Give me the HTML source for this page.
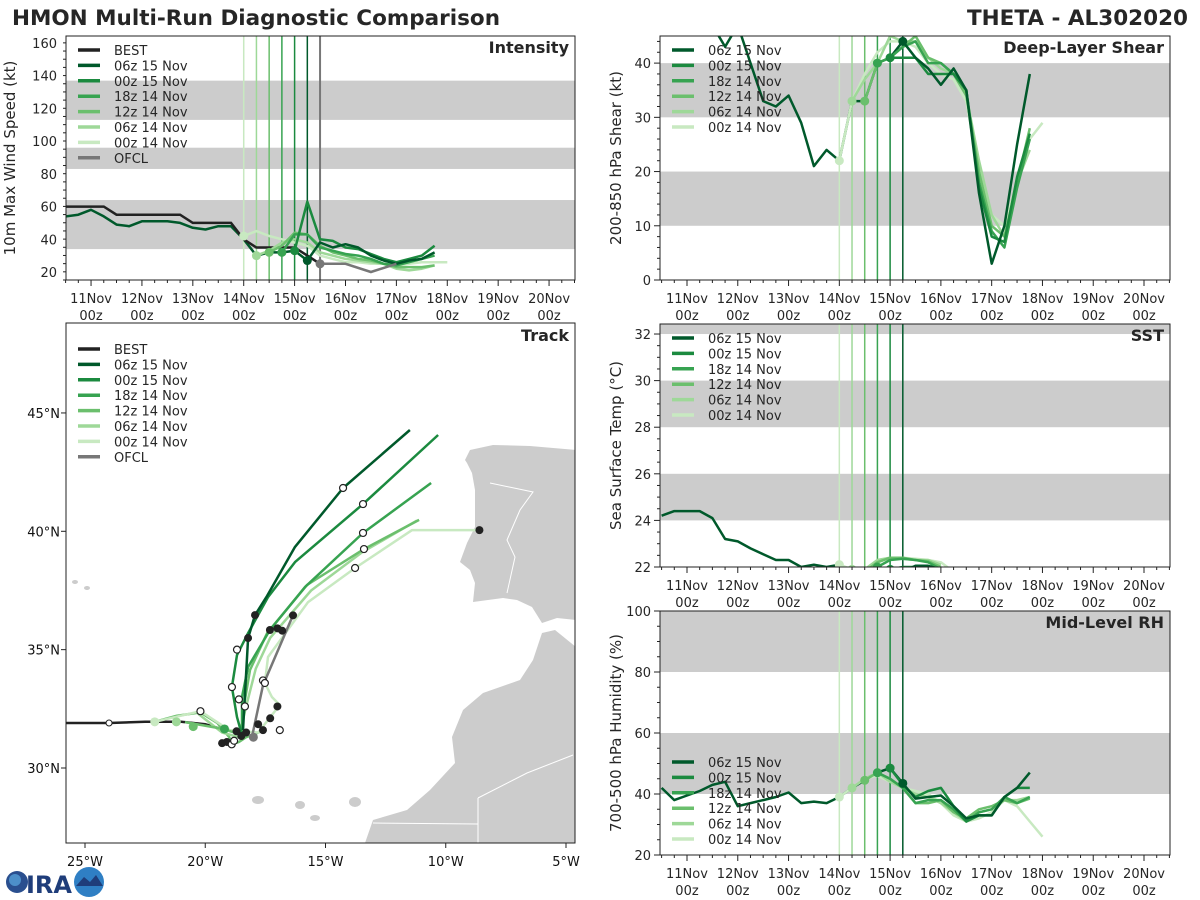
<!DOCTYPE html>
<html><head><meta charset="utf-8"><title>HMON Multi-Run Diagnostic Comparison</title>
<style>
html,body{margin:0;padding:0;background:#fff;}
svg{display:block;font-family:"DejaVu Sans","Liberation Sans",sans-serif;}
</style></head>
<body>
<svg id="fig" width="1200" height="900" viewBox="0 0 1200 900" xmlns="http://www.w3.org/2000/svg">
<rect x="0" y="0" width="1200" height="900" fill="#fff"/>
<text x="12" y="25" font-size="21.5" font-weight="bold" fill="#262626">HMON Multi-Run Diagnostic Comparison</text>
<text x="1188" y="25" font-size="21.5" font-weight="bold" fill="#262626" text-anchor="end">THETA - AL302020</text>
<g>
<circle cx="17" cy="882" r="11" fill="#2a4f8f"/><circle cx="15" cy="880" r="6" fill="#4d8fc9"/>
<text x="26" y="893" font-size="24" font-weight="bold" fill="#1f3d7a">IRA</text>
<circle cx="89" cy="882" r="15" fill="#2f7fc4"/><path d="M76,886 L84,877 L90,882 L96,875 L103,886 Z" fill="#1f3d7a"/>
</g>
<g id="layer"></g>
</svg>
<script>
// ---------- shared run info ----------
const runNames = ['06z 15 Nov','00z 15 Nov','18z 14 Nov','12z 14 Nov','06z 14 Nov','00z 14 Nov'];
const runInit = [15.25, 15.0, 14.75, 14.5, 14.25, 14.0];
const runColors = ['#00592b','#1b8a3f','#37a351','#6bbf6d','#9ed898','#c8e9c1'];
const dayTicks = [11,12,13,14,15,16,17,18,19,20];
const dayTickLabels = ['11Nov','12Nov','13Nov','14Nov','15Nov','16Nov','17Nov','18Nov','19Nov','20Nov'];

// ---------- intensity data ----------
const intHistDays = [10.5,10.75,11,11.25,11.5,11.75,12,12.25,12.5,12.75,13,13.25,13.5,13.75,14,14.25,14.5,14.75,15,15.25];
const intHistVals = [54,55,58,54,49,48,51,51,51,50,47,46,48,48,40,30,32,32,33,27];
const bestDays = [10.5,10.75,11,11.25,11.5,11.75,12,12.25,12.5,12.75,13,13.25,13.5,13.75,14,14.25,14.5,14.75,15,15.25,15.5];
const bestVals = [60,60,60,60,55,55,55,55,55,55,50,50,50,50,40,35,35,35,35,30,25];
const ofclDays = [15.5,16.0,16.5,17.0];
const ofclVals = [25,25,20,25];
const intRun06z15 = [27,38,35,37,35,30,27,25,27,28,32];
const intRun00z15 = [33,63,40,39,35,34,31,28,26,28,30,36];
const intRun18z14 = [32,43,43,35,33,31,30,28,25,24,26,28,30];
const intRun12z14 = [32,36,44,43,36,32,30,28,27,25,23,23,23,24];
const intRun06z14 = [30,33,38,40,38,32,30,28,27,26,25,22,21,22,24];
const intRun00z14 = [42,45,42,40,38,36,30,28,26,26,25,25,24,25,26,26,26];
const intRuns = [intRun06z15,intRun00z15,intRun18z14,intRun12z14,intRun06z14,intRun00z14];

// ---------- shear data ----------
const shrHistDays = [10.5,10.75,11,11.25,11.5,11.75,12,12.25,12.5,12.75,13,13.25,13.5,13.75,14,14.25,14.5,14.75,15,15.25];
const shrHistVals = [60,58,55,50,47,43,47,40,33,32,34,29,21,24,22,33,33,40,41,44];
const shrRun06z15 = [44,41,39,36,39,35,16,3,10,25,38];
const shrRun00z15 = [41,41,41,38,38,38,35,17,8,7,19,27];
const shrRun18z14 = [40,41,43,44,40,40,38,35,18,9,6,17,26];
const shrRun12z14 = [33,40,41,43,45,41,40,38,34,20,10,8,18,28];
const shrRun06z14 = [33,37,40,45,44,44,41,39,38,34,22,12,8,18,24];
const shrRun00z14 = [22,33,38,42,44,44,43,40,38,37,33,20,12,10,18,26,29];
const shrRuns = [shrRun06z15,shrRun00z15,shrRun18z14,shrRun12z14,shrRun06z14,shrRun00z14];

// ---------- SST data ----------
const sstHistDays = [10.5,10.75,11,11.25,11.5,11.75,12,12.25,12.5,12.75,13,13.25,13.5,13.75,14];
const sstHistVals = [24.2,24.4,24.4,24.4,24.1,23.2,23.1,22.8,22.55,22.3,22.3,22.0,22.1,22.0,22.1];
const sstRun06z15 = [21.8,22.05,22.05,21.9];
const sstRun00z15 = [21.9,22.0,22.0,22.0,21.8];
const sstRun18z14 = [22.0,22.3,22.35,22.3,22.2,21.9];
const sstRun12z14 = [21.8,22.2,22.4,22.4,22.3,22.25,22.0];
const sstRun06z14 = [21.9,21.9,22.3,22.4,22.35,22.3,22.3,22.1];
const sstRun00z14 = [22.1,21.9,21.8,22.2,22.4,22.4,22.35,22.3,22.2,21.8];
const sstRuns = [sstRun06z15,sstRun00z15,sstRun18z14,sstRun12z14,sstRun06z14,sstRun00z14];

// ---------- RH data ----------
const rhHistDays = [10.5,10.75,11,11.25,11.5,11.75,12,12.25,12.5,12.75,13,13.25,13.5,13.75,14,14.25,14.5,14.75,15,15.25];
const rhHistVals = [42,38,39.5,41,43,44,36,37,38,39,40.5,37,37.5,37,39,42,44.5,47,48.5,43.5];
const rhRun06z15 = [43.5,38.5,39,39.5,36,32,33,33,39,42,47];
const rhRun00z15 = [48.5,43,39,41,42,36,31,33,33,39,42,42];
const rhRun18z14 = [47,45,42,37,38,38,35,31,34,35,39,37,39];
const rhRun12z14 = [44.5,47,45,42,37,37,38,34,32,35,36,38,37,38.5];
const rhRun06z14 = [42,45,47,44,42,40,39,37,34,31,34,35,38,38,39];
const rhRun00z14 = [39,42,45,46,44,42,41,40,37,33,31,32,34,38,36,31,26];
const rhRuns = [rhRun06z15,rhRun00z15,rhRun18z14,rhRun12z14,rhRun06z14,rhRun00z14];

// ---------- track data ----------
const bestLon = [-25.9,-24.0,-22.5,-21.0,-20.0,-19.5,-19.0,-18.7,-18.5];
const bestLat = [31.9,31.9,31.95,31.95,31.85,31.7,31.6,31.5,31.45];
const loopLon = [-22.1,-21.2,-20.2,-19.5,-19.0,-18.9,-18.6,-18.3,-17.9,-17.6];
const loopLat = [31.95,32.2,32.35,31.9,31.3,31.0,31.1,31.3,31.45,31.6];
const trkLon06z15 = [-18.43,-18.22,-17.93,-17.43,-16.27,-14.27,-11.49];
const trkLat06z15 = [31.6,35.49,36.46,37.27,39.34,41.83,44.28];
const trkLon00z15 = [-18.5,-18.68,-18.89,-18.68,-18.22,-17.39,-16.27,-13.44,-10.32];
const trkLat00z15 = [31.5,32.15,33.42,34.77,35.7,37.22,38.7,41.15,44.07];
const trkLon18z14 = [-18.47,-18.47,-18.22,-17.31,-15.85,-13.44,-10.61];
const trkLat18z14 = [31.6,33.0,34.27,35.83,37.65,39.93,42.04];
const trkLon12z14 = [-20.84,-19.26,-18.47,-18.35,-18.14,-17.43,-15.77,-13.4,-11.11];
const trkLat12z14 = [31.94,31.65,31.4,32.87,34.14,35.7,37.73,39.25,40.48];
const trkLon06z14 = [-20.3,-19.3,-18.6,-18.3,-17.9,-17.3,-15.6,-13.5,-11.2];
const trkLat06z14 = [32.3,31.5,31.3,32.6,34.2,35.5,37.5,39.1,40.45];
const trkLon00z14 = [-22.1,-20.2,-19.0,-17.8,-16.9,-17.23,-17.52,-17.39,-15.73,-13.77,-11.4,-8.6];
const trkLat00z14 = [31.95,32.4,31.6,31.5,32.66,33.0,33.59,34.69,37.0,38.45,40.05,40.05];
const trkLons = [trkLon06z15,trkLon00z15,trkLon18z14,trkLon12z14,trkLon06z14,trkLon00z14];
const trkLats = [trkLat06z15,trkLat00z15,trkLat18z14,trkLat12z14,trkLat06z14,trkLat00z14];
const ofclLon = [-18.06,-17.6,-16.35];
const ofclLat = [31.3,33.5,36.45];
const blackDotLon = [-19.3,-19.1,-18.7,-18.5,-18.3,-17.8,-17.6,-17.3,-17.0,-18.22,-17.93,-17.31,-17.0,-16.8,-16.35,-8.6];
const blackDotLat = [31.05,31.1,31.55,31.35,31.5,31.85,31.6,32.1,32.6,35.49,36.46,35.83,35.9,35.8,36.45,40.05];
const openDotLon = [-14.27,-13.44,-13.44,-13.4,-13.77,-18.89,-18.35,-17.6,-17.52,-18.68,-18.6,-16.9,-20.2,-18.9,-18.8];
const openDotLat = [41.83,41.15,39.93,39.25,38.45,33.42,32.6,33.7,33.59,35.0,32.9,31.6,32.4,31.0,31.15];

// ---------- helpers ----------
const NS = 'http://www.w3.org/2000/svg';
const layer = document.getElementById('layer');
function mk(tag, attrs, parent){
  const e = document.createElementNS(NS, tag);
  for (const k in attrs) e.setAttribute(k, attrs[k]);
  (parent||layer).appendChild(e);
  return e;
}
function polyPts(xs, ys, fx, fy){ return xs.map((v,i)=>fx(v).toFixed(1)+','+fy(ys[i]).toFixed(1)).join(' '); }

function timePanel(p){
  const g = mk('g', {});
  
  
  const X = d => p.x0 + (d - 10.5) * p.pxDay;
  const Y = v => p.y + p.h - (v - p.ymin) / (p.ymax - p.ymin) * p.h;
  const cid = 'clip-' + p.name;
  const cp = mk('clipPath', {id: cid}, g);
  mk('rect', {x:p.x, y:p.y, width:p.w, height:p.h}, cp);
  p.bands.forEach(b=>{
    const r = mk('rect', {x:p.x, y:Y(Math.min(b[1],p.ymax)), width:p.w, height:Y(b[0])-Y(Math.min(b[1],p.ymax)), fill:'#cccccc'}, g);
    
    
  });
  const plot = mk('g', {'clip-path':'url(#'+cid+')'}, g);
  for (let i = runInit.length-1; i >= 0; i--){
    const l = mk('line', {x1:X(runInit[i]), x2:X(runInit[i]), y1:p.y, y2:p.y+p.h, stroke:runColors[i], 'stroke-width':1.5}, plot);
    
    
  }
  if (p.ofclLine){
    const l = mk('line', {x1:X(15.5), x2:X(15.5), y1:p.y, y2:p.y+p.h, stroke:'#777', 'stroke-width':2}, plot);
    
    
  }
  const hl = mk('polyline', {points:polyPts(p.histDays,p.histVals,X,Y), fill:'none', stroke:runColors[0], 'stroke-width':2.5, 'stroke-linejoin':'round'}, plot);
  
  
  if (p.best){
    const bl = mk('polyline', {points:polyPts(bestDays,bestVals,X,Y), fill:'none', stroke:'#222', 'stroke-width':2.5}, plot);
    
    
  }
  for (let i = p.runs.length-1; i >= 0; i--){
    const vals = p.runs[i];
    const days = vals.map((v,k)=>runInit[i] + k*0.25);
    const pl = mk('polyline', {points:polyPts(days,vals,X,Y), fill:'none', stroke:runColors[i], 'stroke-width':2.5, 'stroke-linejoin':'round'}, plot);
    
    
  }
  if (p.best){
    const ol = mk('polyline', {points:polyPts(ofclDays,ofclVals,X,Y), fill:'none', stroke:'#777', 'stroke-width':2.5}, plot);
    
    
    const oc = mk('circle', {cx:X(ofclDays[0]), cy:Y(ofclVals[0]), r:4.5, fill:'#777'}, plot);
    
    
  }
  for (let i = p.runs.length-1; i >= 0; i--){
    const c = mk('circle', {cx:X(runInit[i]), cy:Y(p.runs[i][0]), r:4.5, fill:runColors[i]}, plot);
    
    
  }
  mk('rect', {x:p.x, y:p.y, width:p.w, height:p.h, fill:'none', stroke:'#222', 'stroke-width':1}, g);
  for (let d = 10.5; d <= 20.5001; d += 0.25){
    const isMajor = Math.abs(d - Math.round(d)) < 1e-6;
    mk('line', {x1:X(d), x2:X(d), y1:p.y+p.h, y2:p.y+p.h+(isMajor?6:3), stroke:'#222', 'stroke-width':1}, g);
  }
  dayTicks.forEach((d,i)=>{
    const t1 = mk('text', {x:X(d), y:p.y+p.h+23, 'font-size':13, 'text-anchor':'middle', fill:'#262626'}, g);
    t1.textContent = dayTickLabels[i];
    
    
    const t2 = mk('text', {x:X(d), y:p.y+p.h+40, 'font-size':13, 'text-anchor':'middle', fill:'#262626'}, g);
    t2.textContent = '00z';
    
    
  });
  for (let v = p.ymin; v <= p.ymax + 1e-6; v += p.minor){
    const v2 = Math.round(v*100)/100;
    const isMajor = Math.abs(v2/p.major - Math.round(v2/p.major)) < 1e-6;
    mk('line', {x1:p.x-(isMajor?6:3), x2:p.x, y1:Y(v2), y2:Y(v2), stroke:'#222', 'stroke-width':1}, g);
  }
  p.yTicks.forEach(v=>{
    const t = mk('text', {x:p.x-9, y:Y(v)+5, 'font-size':13, 'text-anchor':'end', fill:'#262626'}, g);
    t.textContent = v;
    
    
  });
  const yt = mk('text', {x:0, y:0, 'font-size':15, 'text-anchor':'middle', fill:'#262626', transform:'translate('+p.ylabX+','+(p.y+p.h/2)+') rotate(-90)'}, g);
  yt.textContent = p.ylabel;
  
  
  const tt = mk('text', {x:p.x+p.w-6, y:p.y+17, 'font-size':16, 'font-weight':'bold', 'text-anchor':'end', fill:'#262626'}, g);
  tt.textContent = p.title;
  
  
  legend(g, p.x+12, p.legY, p.best);
}

function legend(g, x, y, withBest){
  const names = [], cols = [];
  if (withBest){ names.push('BEST'); cols.push('#222'); }
  runNames.forEach((n,i)=>{ names.push(n); cols.push(runColors[i]); });
  if (withBest){ names.push('OFCL'); cols.push('#777'); }
  const lg = mk('g', {}, g);
  
  
  names.forEach((n,i)=>{
    const yy = y + i*15.4;
    const e = mk('g', {}, lg);
    
    
    mk('line', {x1:x, x2:x+22, y1:yy, y2:yy, stroke:cols[i], 'stroke-width':3.5}, e);
    const t = mk('text', {x:x+36, y:yy+5, 'font-size':13, fill:'#262626'}, e);
    t.textContent = n;
  });
}

timePanel({name:'intensity-panel', x:66, y:36, w:509, h:244, x0:65.6, pxDay:50.89, ymin:15.1, ymax:164.3,
  bands:[[34,64],[83,96],[113,137]], histDays:intHistDays, histVals:intHistVals, runs:intRuns, best:true, ofclLine:true,
  yTicks:[20,40,60,80,100,120,140,160], major:20, minor:5, ylabel:'10m Max Wind Speed (kt)', ylabX:15, title:'Intensity', legY:50});
timePanel({name:'shear-panel', x:660, y:36, w:510, h:244, x0:661.6, pxDay:50.78, ymin:0, ymax:45,
  bands:[[10,20],[30,40]], histDays:shrHistDays, histVals:shrHistVals, runs:shrRuns, best:false,
  yTicks:[0,10,20,30,40], major:10, minor:2, ylabel:'200-850 hPa Shear (kt)', ylabX:621, title:'Deep-Layer Shear', legY:50});
timePanel({name:'sst-panel', x:660, y:324, w:510, h:243, x0:661.6, pxDay:50.78, ymin:22, ymax:32.43,
  bands:[[24,26],[28,30],[32,40]], histDays:sstHistDays, histVals:sstHistVals, runs:sstRuns, best:false,
  yTicks:[22,24,26,28,30,32], major:2, minor:0.5, ylabel:'Sea Surface Temp (°C)', ylabX:621, title:'SST', legY:338});
timePanel({name:'rh-panel', x:660, y:611, w:510, h:244, x0:661.6, pxDay:50.78, ymin:20, ymax:100,
  bands:[[40,60],[80,100]], histDays:rhHistDays, histVals:rhHistVals, runs:rhRuns, best:false,
  yTicks:[20,40,60,80,100], major:20, minor:5, ylabel:'700-500 hPa Humidity (%)', ylabX:621, title:'Mid-Level RH', legY:762});

// ---------- track panel ----------
(function(){
  const px=66, py=323, pw=509, ph=520;
  const LX = lon => 85 + (lon + 25) * 24.05;
  const LY = lat => 768 - (lat - 30) * 23.67;
  const g = mk('g', {});
  
  
  const cp = mk('clipPath', {id:'clip-track'}, g);
  mk('rect', {x:px, y:py, width:pw, height:ph}, cp);
  const plot = mk('g', {'clip-path':'url(#clip-track)'}, g);
  const iberia = mk('polygon', {points:'465,460 470,450 493,445 530,446 576,450 576,620 557,618 542,623 532,607 517,600 503,598 473,602 475,583 470,570 460,562 467,543 475,527 475,490 472,473 467,463', fill:'#cccccc'}, plot);
  
  
  const africa = mk('polygon', {points:'576,647 555,630 542,633 533,660 520,680 483,693 463,710 452,737 455,763 430,790 407,810 373,820 365,843 576,843', fill:'#cccccc'}, plot);
  
  
  [[258,800,6,4],[300,805,5,4],[355,802,6,5],[315,818,5,3],[75,582,3,2],[87,588,3,2]].forEach(s=>{
    const e = mk('ellipse', {cx:s[0], cy:s[1], rx:s[2], ry:s[3], fill:'#cccccc'}, plot);
    
    
  });
  ['490,483 533,492 520,510 507,540 515,557 507,593','478,798 478,843','373,823 478,824','478,798 527,773 573,755'].forEach(s=>{
    const b = mk('polyline', {points:s, fill:'none', stroke:'#fff', 'stroke-width':1}, plot);
    
    
  });
  const bl = mk('polyline', {points:polyPts(bestLon,bestLat,LX,LY), fill:'none', stroke:'#222', 'stroke-width':2.5}, plot);
  
  
  const ll = mk('polyline', {points:polyPts(loopLon,loopLat,LX,LY), fill:'none', stroke:'#6bbf6d', 'stroke-width':2.5}, plot);
  
  
  for (let i = trkLons.length-1; i >= 0; i--){
    const t = mk('polyline', {points:polyPts(trkLons[i],trkLats[i],LX,LY), fill:'none', stroke:runColors[i], 'stroke-width':2.5, 'stroke-linejoin':'round'}, plot);
    
    
  }
  const ol = mk('polyline', {points:polyPts(ofclLon,ofclLat,LX,LY), fill:'none', stroke:'#777', 'stroke-width':2.5}, plot);
  
  
  [[-22.1,31.95,'#c8e9c1'],[-21.2,31.95,'#9ed898'],[-20.5,31.75,'#6bbf6d'],[-19.2,31.65,'#37a351']].forEach(d=>{
    const c = mk('circle', {cx:LX(d[0]), cy:LY(d[1]), r:4.5, fill:d[2]}, plot);
    
    
  });
  blackDotLon.forEach((lon,i)=>{
    const c = mk('circle', {cx:LX(lon), cy:LY(blackDotLat[i]), r:4, fill:'#222'}, plot);
    
    
  });
  openDotLon.forEach((lon,i)=>{
    const c = mk('circle', {cx:LX(lon), cy:LY(openDotLat[i]), r:3.5, fill:'#fff', stroke:'#222', 'stroke-width':1.2}, plot);
    
    
  });
  mk('circle', {cx:LX(-18.0), cy:LY(31.3), r:4.5, fill:'#777'}, plot);
  mk('circle', {cx:LX(-24.0), cy:LY(31.9), r:3, fill:'#fff', stroke:'#222'}, plot);
  mk('rect', {x:px, y:py, width:pw, height:ph, fill:'none', stroke:'#222', 'stroke-width':1}, g);
  [-25,-20,-15,-10,-5].forEach(lon=>{
    mk('line', {x1:LX(lon), x2:LX(lon), y1:py+ph, y2:py+ph+5, stroke:'#222'}, g);
    const t = mk('text', {x:LX(lon), y:py+ph+23, 'font-size':13, 'text-anchor':'middle', fill:'#111'}, g);
    t.textContent = Math.abs(lon) + '°W';
    
    
  });
  [30,35,40,45].forEach(lat=>{
    mk('line', {x1:px-5, x2:px, y1:LY(lat), y2:LY(lat), stroke:'#222'}, g);
    const t = mk('text', {x:px-6, y:LY(lat)+5, 'font-size':13, 'text-anchor':'end', fill:'#111'}, g);
    t.textContent = lat + '°N';
    
    
  });
  const tt = mk('text', {x:px+pw-6, y:py+18, 'font-size':16, 'font-weight':'bold', 'text-anchor':'end', fill:'#262626'}, g);
  tt.textContent = 'Track';
  
  
  legend(g, 78, 349, true);
})();
</script>
</body></html>
